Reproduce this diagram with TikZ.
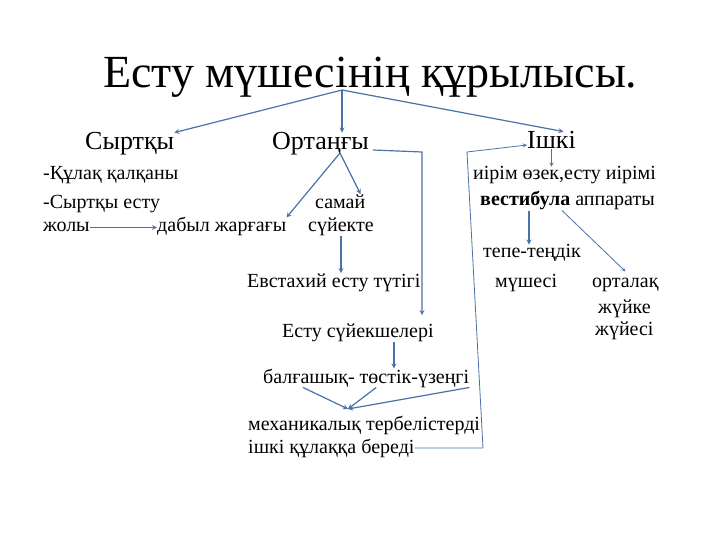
\documentclass[tikz,border=0pt]{standalone}
\usepackage{fontspec}
\setmainfont{LiberationSerif-Regular.ttf}[BoldFont=LiberationSerif-Bold.ttf]
\definecolor{linkblue}{HTML}{4A72A8}

\begin{document}
\begin{tikzpicture}[x=1pt,y=-1pt,
    lbl/.style={inner sep=0pt, anchor=base west, font=\fontsize{20}{22}\selectfont},
    head/.style={inner sep=0pt, anchor=base west, font=\fontsize{26}{28}\selectfont},
    arr/.style={-stealth, draw=linkblue, line width=1.2pt},
    thin/.style={-stealth, draw=linkblue, line width=0.8pt}]
        \useasboundingbox (0,0) rectangle (720,540);
        \node[inner sep=0pt, anchor=base west, font=\fontsize{46}{50}\selectfont] (title) at (103,88) {Есту мүшесінің құрылысы.};
        \node[head] (ext) at (85,150) {Сыртқы};
        \node[head] (mid) at (272,150) {Ортаңғы};
        \node[head] (inn) at (527,149) {Ішкі};
        \node[lbl] (pinna) at (43,180) {-Құлақ қалқаны};
        \node[lbl] (canal) at (43,208) {-Сыртқы есту};
        \node[lbl] (canal2) at (43,232) {жолы};
        \node[lbl] (drum) at (157,232) {дабыл жарғағы};
        \node[lbl] (temp) at (315,208) {самай};
        \node[lbl] (bone) at (308,232) {сүйекте};
        \node[lbl] (tube) at (247,287) {Евстахий есту түтігі};
        \node[lbl] (ossi) at (282,337) {Есту сүйекшелері};
        \node[lbl] (ham) at (263,383) {балғашық- төстік-үзеңгі};
        \node[lbl] (mech) at (248,430) {механикалық тербелістерді};
        \node[lbl] (mech2) at (248,453) {ішкі құлаққа береді};
        \node[lbl] (coch) at (473,180) {иірім өзек,есту иірімі};
        \node[lbl] (vest) at (480,206) {\textbf{вестибула} аппараты};
        \node[lbl] (bal) at (483,258) {тепе-теңдік};
        \node[lbl] (bal2) at (495,287) {мүшесі};
        \node[lbl] (cns) at (592,287) {орталақ};
        \node[lbl] (cns2) at (598,313) {жүйке};
        \node[lbl] (cns3) at (595,335) {жүйесі};
        \coordinate (top) at (342,90);
        \coordinate (mid-o) at (340,153);
        \coordinate (mid-r) at (422,152);
        \coordinate (conv) at (348,409);
        \coordinate (ret-b) at (483,450);
        \coordinate (ret-c) at (467,152);
        \draw[arr] (top) -- (ext.north east);
        \draw[arr] (top) -- (top |- mid.north);
        \draw[arr] (top) -- ([xshift=12pt]inn.north);
        \draw[arr] (mid-o) -- (drum.north east);
        \draw[arr] (mid-o) -- ([xshift=-5pt]temp.north east);
        \draw[arr] (canal2.east) -- (canal2.east -| drum.west);
        \draw[arr] (bone.south) -- (bone.south |- tube.north);
        \draw[arr] ([xshift=4pt]mid.base east) -- (mid-r) -- ([yshift=8pt]mid-r |- ossi.north);
        \draw[arr] ([xshift=36pt]ossi.south) -- ([xshift=36pt]ossi.south |- ham.north);
        \draw[arr] ([xshift=40pt]ham.south west) -- (conv);
        \draw[arr] ([xshift=10pt]ham.south) -- (conv);
        \draw[arr] (ham.south east) -- (conv);
        \draw[thin] (inn.south) -- (inn.south |- coch.north);
        \draw[arr] ([xshift=49pt]vest.south west) -- ([xshift=49pt]vest.south west |- bal.north);
        \draw[thin] ([xshift=82pt]vest.south west) -- ([yshift=6pt]cns.north);
        \draw[thin] (mech2.east) -- (mech2.east -| ret-b) -- (ret-c) -- ([yshift=4pt]inn.base west);
    \end{tikzpicture}
\end{document}
